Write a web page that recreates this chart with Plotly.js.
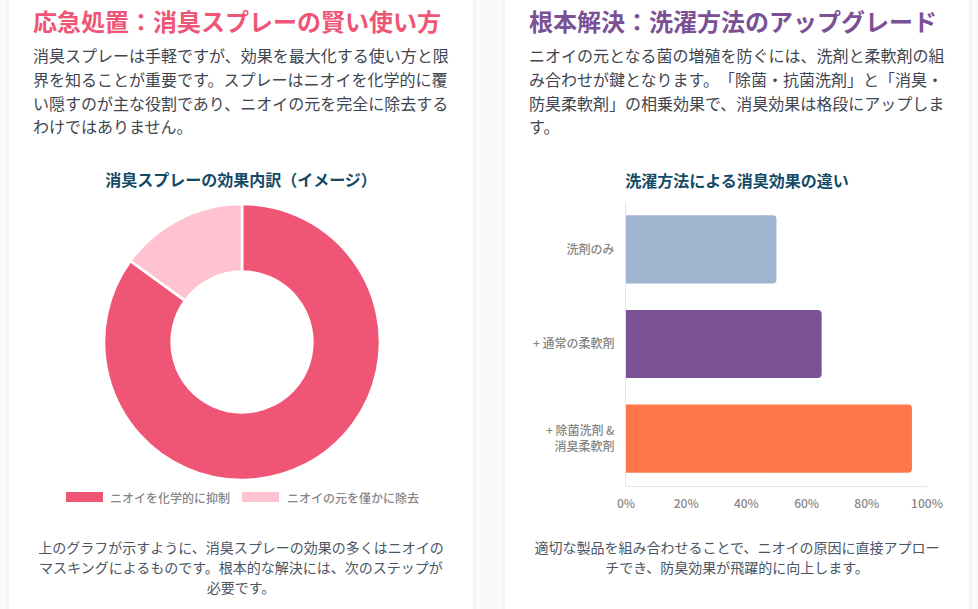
<!DOCTYPE html>
<html lang="ja"><head><meta charset="utf-8">
<script src="https://cdn.plot.ly/plotly-3.0.1.min.js"></script>
<style>
html,body{margin:0;padding:0;width:978px;height:609px;overflow:hidden;background:#f8fafc;font-family:"Noto Sans CJK JP","Noto Sans",sans-serif;text-spacing-trim:space-all;}
.card{position:absolute;top:-40px;height:700px;width:464px;background:#fff;border-radius:8px;box-shadow:0 1px 6px rgba(0,0,0,.08);}
.t{position:absolute;margin:0;}
h2{font-size:24px;line-height:32px;font-weight:700;}
.p{font-size:16px;line-height:23.8px;color:#3f4650;width:416px;}
.f{font-size:14px;line-height:20px;color:#4b5563;text-align:center;width:416px;}
.chart{position:absolute;}
</style></head><body>
<div class="card" style="left:9px"></div>
<div class="card" style="left:505px"></div>
<h2 class="t" style="left:33px;top:5px;color:#EF5675">応急処置：消臭スプレーの賢い使い方</h2>
<p class="t p" style="left:33px;top:44px">消臭スプレーは手軽ですが、効果を最大化する使い方と限界を知ることが重要です。スプレーはニオイを化学的に覆い隠すのが主な役割であり、ニオイの元を完全に除去するわけではありません。</p>
<p class="t f" style="left:33px;top:537px">上のグラフが示すように、消臭スプレーの効果の多くはニオイのマスキングによるものです。根本的な解決には、次のステップが必要です。</p>
<h2 class="t" style="left:529px;top:5px;color:#7A5195">根本解決：洗濯方法のアップグレード</h2>
<p class="t p" style="left:529px;top:44px">ニオイの元となる菌の増殖を防ぐには、洗剤と柔軟剤の組み合わせが鍵となります。「除菌・抗菌洗剤」と「消臭・防臭柔軟剤」の相乗効果で、消臭効果は格段にアップします。</p>
<p class="t f" style="left:529px;top:537px">適切な製品を組み合わせることで、ニオイの原因に直接アプローチでき、防臭効果が飛躍的に向上します。</p>
<div id="pie" class="chart" style="left:33px;top:165px;width:416px;height:350px"></div>
<div id="bar" class="chart" style="left:529px;top:165px;width:416px;height:350px"></div>
<script>
const pieTitle = "消臭スプレーの効果内訳（イメージ）";
const pieLabels = ["ニオイを化学的に抑制", "ニオイの元を僅かに除去"];
const pieValues = [85, 15];
const pieColors = ["#EF5675", "#FFC2D1"];

const barTitle = "洗濯方法による消臭効果の違い";
const barLabels = ["洗剤のみ", "+ 通常の柔軟剤", "+ 除菌洗剤 &<br>消臭柔軟剤"];
const barValues = [50, 65, 95];
const barColors = ["#A0B4D0", "#7A5195", "#FF764A"];
const barTicks = [0, 20, 40, 60, 80, 100];

const font = '"Noto Sans CJK JP","Noto Sans",sans-serif';
const titleColor = "#134A66";
const tickColor = "#868686";
const W = 416, H = 350;
const px = (x) => x / W, py = (y) => 1 - y / H;

const legendShapes = [33, 209].map((x, i) => ({
  type: "rect", xref: "paper", yref: "paper",
  x0: px(x), x1: px(x + 37), y0: py(327), y1: py(337),
  fillcolor: pieColors[i], line: {width: 0}
}));
const legendTexts = [75, 252].map((x, i) => ({
  xref: "paper", yref: "paper", x: px(x), y: py(332), xanchor: "left", yanchor: "middle",
  text: pieLabels[i], showarrow: false, font: {family: font, size: 12, color: tickColor, weight: 500}
}));

Plotly.newPlot("pie", [{
  type: "pie", hole: 0.51, sort: false, direction: "clockwise", rotation: 0,
  labels: pieLabels, values: pieValues,
  marker: {colors: pieColors, line: {color: "#fff", width: 2.6}},
  textinfo: "none", hoverinfo: "label+value",
  domain: {x: [px(71), px(347)], y: [py(315), py(39)]}
}], {
  width: W, height: H, margin: {l: 0, r: 0, t: 0, b: 0},
  paper_bgcolor: "rgba(0,0,0,0)", showlegend: false,
  title: {text: "<b>" + pieTitle + "</b>", font: {family: font, size: 16, color: titleColor},
    x: 0.5, xanchor: "center", y: py(15), yanchor: "middle"},
  shapes: legendShapes, annotations: legendTexts
}, {displayModeBar: false, staticPlot: true});

Plotly.newPlot("bar", [{
  type: "bar", orientation: "h", x: barValues, y: barLabels, width: 0.72,
  marker: {color: barColors, cornerradius: 4}, hoverinfo: "x+y"
}], {
  width: W, height: H, margin: {l: 96.5, r: 18, t: 37, b: 29},
  paper_bgcolor: "rgba(0,0,0,0)", plot_bgcolor: "rgba(0,0,0,0)",
  title: {text: "<b>" + barTitle + "</b>", font: {family: font, size: 16, color: titleColor},
    x: 0.5, xanchor: "center", y: py(16), yanchor: "middle"},
  xaxis: {range: [0, 100], tickvals: barTicks, ticktext: barTicks.map(v => v + "%"), showgrid: false,
    zeroline: false, showline: true, linecolor: "#e5e7eb", linewidth: 1, ticks: "",
    tickfont: {family: font, size: 12, color: tickColor, weight: 500}, ticklabelstandoff: 7},
  yaxis: {autorange: "reversed", showgrid: false, zeroline: false, showline: true, linecolor: "#e5e7eb",
    linewidth: 1, ticks: "", tickfont: {family: font, size: 12, color: tickColor, weight: 500}, ticklabelstandoff: 8}
}, {displayModeBar: false, staticPlot: true});
</script>
</body></html>
